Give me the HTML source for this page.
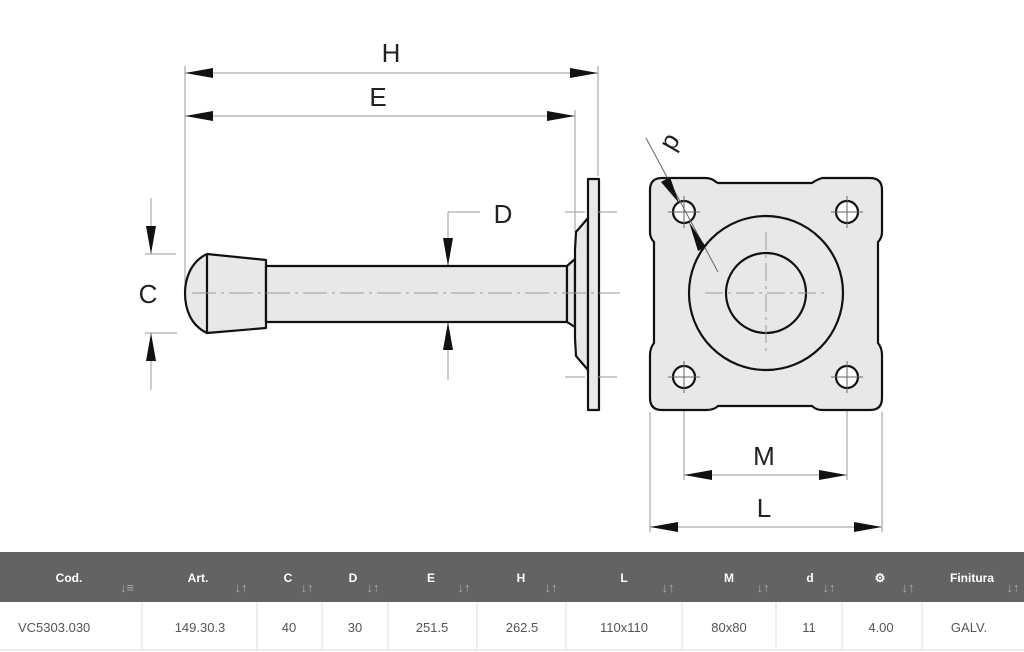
<!DOCTYPE html>
<html><head><meta charset="utf-8"><style>
body{margin:0;background:#fff;width:1024px;height:652px;overflow:hidden}
svg{display:block}
.t{font-family:"Liberation Sans",sans-serif}
</style></head><body>
<svg width="1024" height="652" viewBox="0 0 1024 652" xmlns="http://www.w3.org/2000/svg">
<defs>
<marker id="a" viewBox="0 0 28 10" refX="28" refY="5" markerWidth="28" markerHeight="10" markerUnits="userSpaceOnUse" orient="auto-start-reverse"><path d="M0,0 L28,5 L0,10z" fill="#111"/></marker>
</defs>
<g stroke="#999" stroke-width="1" fill="none">
<line x1="185" y1="66" x2="185" y2="292"/>
<line x1="598" y1="66" x2="598" y2="176"/>
<line x1="575" y1="110" x2="575" y2="232"/>
<line x1="145" y1="254" x2="176" y2="254"/>
<line x1="145" y1="333" x2="177" y2="333"/>
<line x1="151" y1="198" x2="151" y2="254"/>
<line x1="151" y1="333" x2="151" y2="390"/>
<line x1="448" y1="212" x2="448" y2="380"/>
<line x1="448" y1="212" x2="480" y2="212"/>
<line x1="650" y1="412" x2="650" y2="532"/>
<line x1="882" y1="412" x2="882" y2="532"/>
<line x1="684" y1="400" x2="684" y2="480"/>
<line x1="847" y1="400" x2="847" y2="480"/>
</g>
<g stroke="#999" stroke-width="1">
<line x1="185" y1="73" x2="598" y2="73" marker-start="url(#a)" marker-end="url(#a)"/>
<line x1="185" y1="116" x2="575" y2="116" marker-start="url(#a)" marker-end="url(#a)"/>
<line x1="684" y1="475" x2="847" y2="475" marker-start="url(#a)" marker-end="url(#a)"/>
<line x1="650" y1="527" x2="882" y2="527" marker-start="url(#a)" marker-end="url(#a)"/>
<line x1="151" y1="226" x2="151" y2="254" marker-end="url(#a)"/>
<line x1="151" y1="361" x2="151" y2="333" marker-end="url(#a)"/>
<line x1="448" y1="238" x2="448" y2="266" marker-end="url(#a)"/>
<line x1="448" y1="350" x2="448" y2="322" marker-end="url(#a)"/>
</g>
<!-- side view -->
<g stroke="#111" stroke-width="2.2" fill="#e8e8e8" stroke-linejoin="round">
<path d="M207,254 C190,262 185,280 185,293 C185,308 190,325 207,333 L266,328 L266,260z"/>
<line x1="207" y1="254" x2="207" y2="333"/>
<rect x="266" y="266" width="301" height="56"/>
<path d="M567,266 L575,259 L575,327 L567,322z"/>
<path d="M575,250 L576,232 L588,218 L588,370 L576,356 L575,338z"/>
<rect x="588" y="179" width="11" height="231"/>
</g>
<!-- front plate -->
<path d="M662,178 L705,178 Q712,178 716,182 L718,183 L812,183 Q816,180 822,178 L870,178 Q882,178 882,190 L882,232 Q882,238 878,242 L878,343 Q882,348 882,355 L882,398 Q882,410 870,410 L822,410 Q816,410 812,406 L718,406 Q714,410 706,410 L662,410 Q650,410 650,398 L650,355 Q650,348 654,343 L654,242 Q650,238 650,232 L650,190 Q650,178 662,178z" fill="#e8e8e8" stroke="#111" stroke-width="2.2"/>
<g stroke="#111" stroke-width="2.2" fill="none">
<circle cx="766" cy="293" r="77"/>
<circle cx="766" cy="293" r="40"/>
<circle cx="684" cy="212" r="11" fill="#fff"/><circle cx="847" cy="212" r="11" fill="#fff"/>
<circle cx="684" cy="377" r="11" fill="#fff"/><circle cx="847" cy="377" r="11" fill="#fff"/>
</g>
<g stroke="#999" stroke-width="1" fill="none">
<line x1="192" y1="293" x2="620" y2="293" stroke-dasharray="24,5,3,5"/>
<line x1="565" y1="212" x2="622" y2="212" stroke-dasharray="20,12"/>
<line x1="565" y1="377" x2="622" y2="377" stroke-dasharray="20,12"/>
<line x1="705" y1="293" x2="828" y2="293" stroke-dasharray="18,5,3,5"/>
<line x1="766" y1="232" x2="766" y2="355" stroke-dasharray="18,5,3,5"/>
<g stroke="#666">
<line x1="668" y1="212" x2="700" y2="212"/><line x1="684" y1="196" x2="684" y2="228"/>
<line x1="831" y1="212" x2="863" y2="212"/><line x1="847" y1="196" x2="847" y2="228"/>
<line x1="668" y1="377" x2="700" y2="377"/><line x1="684" y1="361" x2="684" y2="393"/>
<line x1="831" y1="377" x2="863" y2="377"/><line x1="847" y1="361" x2="847" y2="393"/>
</g>
<line x1="646" y1="138" x2="718" y2="272" stroke="#666"/>
</g>
<!-- d arrows -->
<path d="M661,182 L670,177 L679,203z" fill="#111"/>
<path d="M689,222 L706,247 L698,251z" fill="#111"/>
<g class="t" font-size="26" fill="#222" text-anchor="middle">
<text x="391" y="62">H</text>
<text x="378" y="106">E</text>
<text x="148" y="303">C</text>
<text x="503" y="223">D</text>
<text x="764" y="465">M</text>
<text x="764" y="517">L</text>
<text x="0" y="0" transform="translate(665,139) rotate(120)">d</text>
</g>
<!-- table -->
<rect x="0" y="552" width="1024" height="50" fill="#646363"/>
<rect x="0" y="602" width="1024" height="48" fill="#fff"/>
<line x1="0" y1="650" x2="1024" y2="650" stroke="#ddd"/>
<g stroke="#ddd">
<line x1="142" y1="602" x2="142" y2="650"/><line x1="257" y1="602" x2="257" y2="650"/>
<line x1="322" y1="602" x2="322" y2="650"/><line x1="388" y1="602" x2="388" y2="650"/>
<line x1="477" y1="602" x2="477" y2="650"/><line x1="566" y1="602" x2="566" y2="650"/>
<line x1="682" y1="602" x2="682" y2="650"/><line x1="776" y1="602" x2="776" y2="650"/>
<line x1="842" y1="602" x2="842" y2="650"/><line x1="922" y1="602" x2="922" y2="650"/>
</g>
<g class="t" font-size="12" font-weight="bold" fill="#fff" text-anchor="middle">
<text x="69" y="582">Cod.</text><text x="198" y="582">Art.</text><text x="288" y="582">C</text>
<text x="353" y="582">D</text><text x="431" y="582">E</text><text x="521" y="582">H</text>
<text x="624" y="582">L</text><text x="729" y="582">M</text><text x="810" y="582">d</text>
<text x="880" y="582">⚙</text><text x="972" y="582">Finitura</text>
</g>
<g class="t" font-size="13" font-weight="bold" fill="#aaa" text-anchor="middle">
<text x="127" y="592">↓≡</text><text x="241" y="592">↓↑</text><text x="307" y="592">↓↑</text>
<text x="373" y="592">↓↑</text><text x="464" y="592">↓↑</text><text x="551" y="592">↓↑</text>
<text x="668" y="592">↓↑</text><text x="763" y="592">↓↑</text><text x="829" y="592">↓↑</text>
<text x="908" y="592">↓↑</text><text x="1013" y="592">↓↑</text>
</g>
<g class="t" font-size="13" fill="#555" text-anchor="middle">
<text x="18" y="632" text-anchor="start">VC5303.030</text>
<text x="200" y="632">149.30.3</text><text x="289" y="632">40</text><text x="355" y="632">30</text>
<text x="432" y="632">251.5</text><text x="522" y="632">262.5</text><text x="624" y="632">110x110</text>
<text x="729" y="632">80x80</text><text x="809" y="632">11</text><text x="881" y="632">4.00</text>
<text x="969" y="632">GALV.</text>
</g>
</svg>
</body></html>
